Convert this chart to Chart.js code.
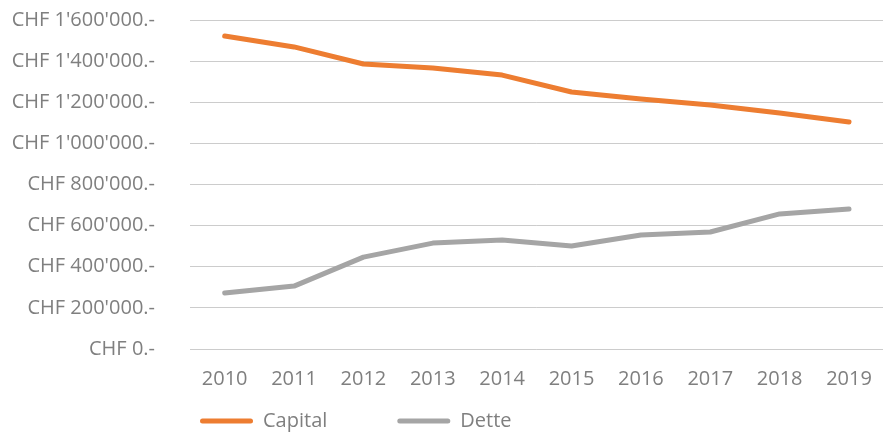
<!DOCTYPE html>
<html>
<head>
<meta charset="utf-8">
<script src="https://cdn.jsdelivr.net/npm/chart.js@4/dist/chart.umd.min.js"></script>
<style>
  html, body { margin: 0; padding: 0; background: #fff; overflow: hidden; }
  #wrap { width: 890px; height: 432px; }
</style>
</head>
<body>
<div id="wrap"><canvas id="capitalDette" width="890" height="432"></canvas></div>
<script>
var years = ["2010", "2011", "2012", "2013", "2014", "2015", "2016", "2017", "2018", "2019"];
var capital = [1522000, 1469000, 1386000, 1367000, 1332000, 1250000, 1216000, 1187000, 1148000, 1104000];
var dette = [272000, 306000, 447000, 515000, 530000, 501000, 554000, 569000, 657000, 681000];
var yTicks = [0, 200000, 400000, 600000, 800000, 1000000, 1200000, 1400000, 1600000];

var textColor = '#7f7f7f';
var fontFamily = '"Open Sans", "Noto Sans", sans-serif';

function chf(v) {
    var s = String(Math.round(v)).replace(/\B(?=(\d{3})+(?!\d))/g, "'");
    return 'CHF ' + s + '.-';
}

// move the legend row to where the reference has it
var legendPlace = {
    id: 'legendPlace',
    afterLayout: function(chart) {
        var lg = chart.legend;
        var pad = lg.options.labels.padding;
        lg.left = 200 - pad;
        lg.top = 421 - 10 - pad;
    }
};

var ctx = document.getElementById('capitalDette').getContext('2d');
var chart = new Chart(ctx, {
    type: 'line',
    data: {
        labels: years,
        datasets: [{
            label: 'Capital',
            data: capital,
            borderColor: '#ed7d31',
            backgroundColor: '#ed7d31',
            borderWidth: 5,
            borderCapStyle: 'round',
            borderJoinStyle: 'round',
            pointRadius: 0,
            tension: 0,
            fill: false
        },
        {
            label: 'Dette',
            data: dette,
            borderColor: '#a5a5a5',
            backgroundColor: '#a5a5a5',
            borderWidth: 5,
            borderCapStyle: 'round',
            borderJoinStyle: 'round',
            pointRadius: 0,
            tension: 0,
            fill: false
        }]
    },
    options: {
        responsive: false,
        animation: false,
        layout: { padding: { top: 20, right: 2, bottom: 0, left: 0 } },
        plugins: {
            tooltip: { enabled: false },
            legend: {
                position: 'bottom',
                align: 'start',
                maxHeight: 23,
                labels: {
                    boxWidth: 53,
                    boxHeight: 5,
                    padding: 70,
                    useBorderRadius: true,
                    borderRadius: 2.5,
                    color: textColor,
                    font: { family: fontFamily, size: 20 },
                    generateLabels: function(chart) {
                        var items = Chart.defaults.plugins.legend.labels.generateLabels(chart);
                        items.forEach(function(it) { it.lineWidth = 0; });
                        return items;
                    }
                }
            }
        },
        scales: {
            x: {
                offset: true,
                grid: { display: false, drawTicks: false },
                border: { display: false },
                ticks: {
                    padding: 18,
                    color: textColor,
                    font: { family: fontFamily, size: 20 }
                }
            },
            y: {
                min: 0,
                max: 1600000,
                afterFit: function(scale) { scale.width = 190; },
                afterBuildTicks: function(scale) {
                    scale.ticks = yTicks.map(function(v) { return { value: v }; });
                },
                grid: { color: '#cccccc', lineWidth: 1, drawTicks: true, tickLength: 35, tickColor: 'rgba(0,0,0,0)' },
                border: { display: false },
                ticks: {
                    padding: 0,
                    color: textColor,
                    font: { family: fontFamily, size: 20 },
                    callback: function(v) { return chf(v); }
                }
            }
        }
    },
    plugins: [legendPlace]
});
</script>
</body>
</html>
